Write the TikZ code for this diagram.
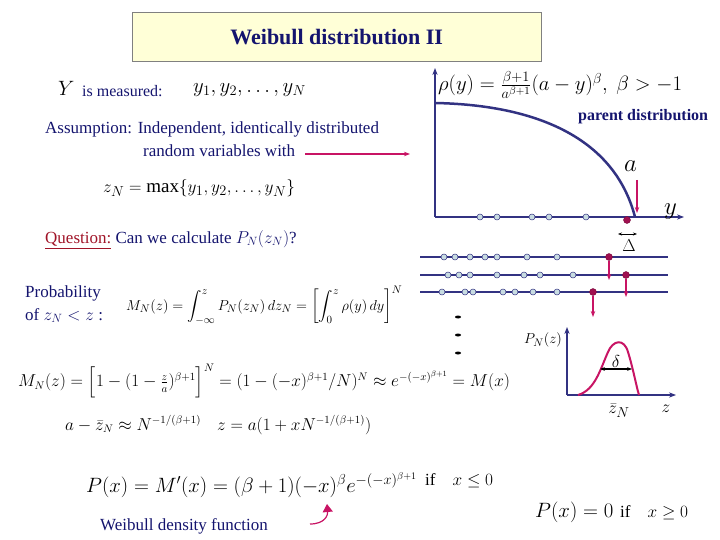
\documentclass[tikz,border=0pt]{standalone}
\usepackage{amsmath}
\usepackage{fontspec}
\setmainfont{Liberation Serif}
\usetikzlibrary{arrows.meta}
\definecolor{navy}{RGB}{20,20,110}
\definecolor{axc}{RGB}{50,50,130}
\definecolor{mag}{RGB}{200,20,100}
\definecolor{dotc}{RGB}{200,220,225}
\definecolor{qred}{RGB}{160,20,40}
\definecolor{ttl}{RGB}{255,255,215}
\newcommand{\fs}[1]{\fontsize{#1}{#1}\selectfont}
\tikzset{
 txt/.style={inner sep=0pt,anchor=west,font=\fs{17}},
 blue/.style={txt,text=navy},
 ax/.style={axc,line width=1.6pt,-{Stealth[length=7pt]}},
 hl/.style={axc,line width=2pt},
 sd/.style={circle,draw=axc,fill=dotc,inner sep=0pt,minimum size=6pt,line width=0.5pt},
 md/.style={circle,draw=mag!60!black,fill=mag!80!black,inner sep=0pt,minimum size=7pt},
 marr/.style={mag,line width=1.3pt,-{Stealth[length=6pt]}},
}
\begin{document}
\begin{tikzpicture}[x=1pt,y=-1pt]
\useasboundingbox (0,0) rectangle (720,540);
\node[draw=gray,fill=ttl,minimum width=409pt,minimum height=49pt,anchor=north west,font=\fs{22}\bfseries,text=navy] (title) at (132,12) {Weibull distribution II};
\node[txt,font=\fs{20}] (Y) at (58,88) {$Y$};
\node[blue,font=\fs{16}] (meas) at (82,91) {is measured:};
\node[txt,font=\fs{20}] (ys) at (193,90) {$y_1,y_2,\ldots,y_N$};
\node[blue,align=left,anchor=north west,font=\fs{17}\linespread{1.35}\selectfont] (ass) at (45,122) {Assumption: Independent, identically distributed\\\hspace{98pt}random variables with};
\coordinate (arrE) at (410,154);
\draw[marr] (305,154) -- (arrE);
\node[txt,font=\fs{19}] (zmax) at (103,188) {$z_N=\max\{y_1,y_2,\ldots,y_N\}$};
\node[blue] (q) at (45,240) {\textcolor{qred}{\underline{Question:}} Can we calculate $P_N(z_N)$?};
\node[blue,align=left,anchor=north west,font=\fs{17}\linespread{1.3}\selectfont] (prob) at (25,286) {Probability\\of $z_N<z$ :};
\node[txt,font=\fs{15}] (mn1) at (126,305) {$M_N(z)=\displaystyle\int_{-\infty}^{z}P_N(z_N)\,dz_N=\left[\int_0^{z}\rho(y)\,dy\right]^N$};
\node[txt,font=\fs{16}] (mn2) at (18,381) {$M_N(z)=\Big[1-(1-\tfrac{z}{a})^{\beta+1}\Big]^N=(1-(-x)^{\beta+1}/N)^N\approx e^{-(-x)^{\beta+1}}=M(x)$};
\node[txt,font=\fs{16}] (mn3) at (65,425) {$a-\bar z_N\approx N^{-1/(\beta+1)}\quad z=a(1+xN^{-1/(\beta+1)})$};
\node[txt,font=\fs{20}] (px) at (86,485) {$P(x)=M'(x)=(\beta+1)(-x)^{\beta}e^{-(-x)^{\beta+1}}$};
\node[txt] (if1) at (425,481) {if\quad $x\le 0$};
\node[blue] (wd) at (100,526) {Weibull density function};
\coordinate (wa) at (327,504);
\draw[mag,line width=1.2pt,-{Triangle[length=8pt,width=10pt]}] (310,524) .. controls (325,524) and (328,515) .. (wa);
\node[txt,font=\fs{20}] (p0) at (535,512) {$P(x)=0$};
\node[txt] (if2) at (620,513) {if\quad $x\ge 0$};
% top plot
\coordinate (o1) at (435,217);
\draw[ax] (o1) -- (435,68);
\draw[ax] (o1) -- (684,217);
\draw[axc,line width=2.5pt] (435,103) .. controls (540,105) and (615,140) .. (635,217);
\node[txt,font=\fs{21}] (rho) at (438,85) {$\rho(y)=\frac{\beta+1}{a^{\beta+1}}(a-y)^{\beta},\ \beta>-1$};
\node[blue,font=\fs{16}\bfseries] (pd) at (578,117) {parent distribution};
\node[txt,font=\fs{30}] (a) at (624,166) {$a$};
\node[txt,font=\fs{30}] (yl) at (664,212) {$y$};
\draw[marr] (637,180) -- (637,213);
\foreach \x in {480,497,532,549,586} \node[sd] at (\x,217) {};
\node[md] (m0) at (627,220) {};
\draw[{Stealth[length=4pt]}-{Stealth[length=4pt]},line width=1pt] (618,234) -- (637,234);
\node[font=\fs{16}] (D) at (629,246) {$\Delta$};
\draw[hl] (420,257) -- (668,257);
\draw[hl] (420,275) -- (668,275);
\draw[hl] (420,292) -- (668,292);
\foreach \x in {444,455,470,485,497,527,557} \node[sd] at (\x,257) {};
\foreach \x in {448,459,470,497,524,540,573} \node[sd] at (\x,275) {};
\foreach \x in {442,465,473,503,515,533,557} \node[sd] at (\x,292) {};
\node[md] (m1) at (609,257) {};
\node[md] (m2) at (626,275) {};
\node[md] (m3) at (593,292) {};
\draw[marr] (m1) -- (609,280);
\draw[marr] (m2) -- (626,297);
\draw[marr] (m3) -- (593,317);
\foreach \y in {317,335,353} \fill (458,\y) ellipse (3pt and 1.5pt);
% lower plot
\coordinate (o2) at (567,395);
\draw[ax] (o2) -- (567,327);
\draw[ax] (o2) -- (676,395);
\draw[mag,line width=2pt] (578,395) .. controls (595,390) and (600,370) .. (608,352) .. controls (613,340) and (624,338) .. (628,352) .. controls (633,368) and (636,385) .. (639,395);
\draw[{Stealth[length=5pt]}-{Stealth[length=5pt]},line width=1.2pt] (600,369) -- (632,369);
\node[font=\fs{18}] (dl) at (616,361) {$\delta$};
\node[txt,font=\fs{15}] (pn) at (524,340) {$P_N(z)$};
\node[font=\fs{19}] (zb) at (619,411) {$\bar z_N$};
\node[font=\fs{19}] (zl) at (666,409) {$z$};
\end{tikzpicture}
\end{document}
